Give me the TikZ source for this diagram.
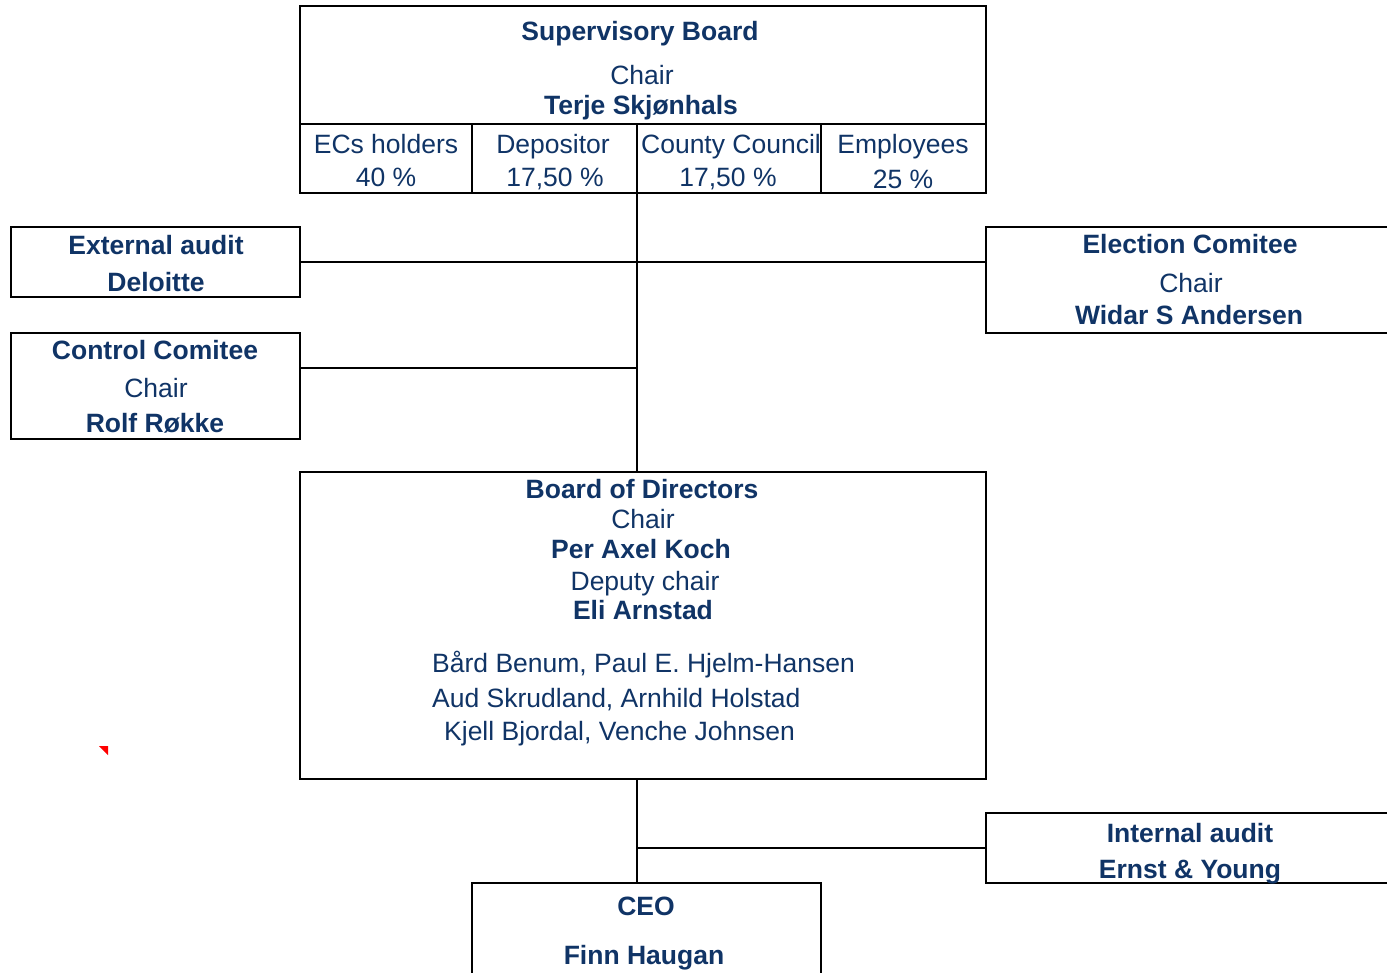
\documentclass[tikz,border=0pt]{standalone}
\usepackage{fontspec}
\setmainfont{Liberation Sans}
\definecolor{navy}{RGB}{16,52,102}
\begin{document}
\begin{tikzpicture}[x=1pt,y=-1pt,
  box/.style={draw=black, line width=2pt, rectangle, inner sep=0pt},
  conn/.style={draw=black, line width=1.6pt},
  txt/.style={anchor=base, text=navy, inner sep=0pt, font=\fontsize{26.5}{30}\selectfont},
  btxt/.style={txt, font=\fontsize{26.5}{30}\selectfont\bfseries},
  ltxt/.style={txt, anchor=base west}]
\useasboundingbox (0,0) rectangle (1387,973);
\clip (0,0) rectangle (1387,973);
\fill[white] (0,0) rectangle (1387,973);
\coordinate (sp) at (637,0);
\coordinate (cy) at (0,368);

% boxes
\node[box, minimum width=686, minimum height=187] (sb) at (643,99.5) {};
\node[box, minimum width=289, minimum height=70] (ext) at (155.5,262) {};
\node[box, minimum width=289, minimum height=106] (ctrl) at (155.5,386) {};
\node[box, minimum width=414, minimum height=106] (elec) at (1193,280) {};
\node[box, minimum width=686, minimum height=307] (bod) at (643,625.5) {};
\node[box, minimum width=414, minimum height=70] (int) at (1193,848) {};
\node[box, minimum width=349, minimum height=107] (ceo) at (646.5,936.5) {};

% supervisory board cells
\draw[line width=2pt] (300,124) -- (986,124);
\draw[line width=2pt] (472,124) -- (472,193);
\draw[line width=2pt] (637,124) -- (637,193);
\draw[line width=2pt] (821,124) -- (821,193);

% connectors
\draw[conn] (sb.south -| sp) -- (bod.north -| sp);
\draw[conn] (ext.east) -- (ext.east -| elec.west);
\draw[conn] (ctrl.east |- cy) -- (sp |- cy);
\draw[conn] (bod.south -| sp) -- (ceo.north -| sp);
\draw[conn] (int.west) -- (int.west -| sp);

% texts: supervisory board
\node[btxt] (t1) at (640,41) {Supervisory Board};
\node[txt] (t2) at (642,85) {Chair};
\node[btxt] (t3) at (641,115) {Terje Skjønhals};
\node[txt] (t4) at (386,154) {ECs holders};
\node[txt] (t5) at (386,187) {40 \%};
\node[txt] (t6) at (553,154) {Depositor};
\node[txt] (t7) at (555,187) {17,50 \%};
\node[txt] (t8) at (731,154) {County Council};
\node[txt] (t9) at (728,187) {17,50 \%};
\node[txt] (t10) at (903,154) {Employees};
\node[txt] (t11) at (903,189) {25 \%};

% external audit
\node[btxt] (e1) at (156,255) {External audit};
\node[btxt] (e2) at (156,292) {Deloitte};

% control comitee
\node[btxt] (c1) at (155,360) {Control Comitee};
\node[txt] (c2) at (156,398) {Chair};
\node[btxt] (c3) at (155,432) {Rolf Røkke};

% election comitee
\node[btxt] (l1) at (1190,254) {Election Comitee};
\node[txt] (l2) at (1191,293) {Chair};
\node[btxt] (l3) at (1189,325) {Widar S Andersen};

% board of directors
\node[btxt] (b1) at (642,498) {Board of Directors};
\node[txt] (b2) at (643,528) {Chair};
\node[btxt] (b3) at (641,558) {Per Axel Koch};
\node[txt] (b4) at (645,590) {Deputy chair};
\node[btxt] (b5) at (643,619) {Eli Arnstad};
\node[ltxt] (b6) at (432,672) {Bård Benum, Paul E. Hjelm-Hansen};
\node[ltxt] (b7) at (432,707) {Aud Skrudland, Arnhild Holstad};
\node[ltxt] (b8) at (444,740) {Kjell Bjordal, Venche Johnsen};

% internal audit
\node[btxt] (i1) at (1190,842) {Internal audit};
\node[btxt] (i2) at (1190,878) {Ernst \& Young};

% CEO
\node[btxt] (o1) at (646,915) {CEO};
\node[btxt] (o2) at (644,964) {Finn Haugan};

% comment marker
\fill[red] (99,746) -- (108,746) -- (108,755) -- cycle;
\end{tikzpicture}
\end{document}
